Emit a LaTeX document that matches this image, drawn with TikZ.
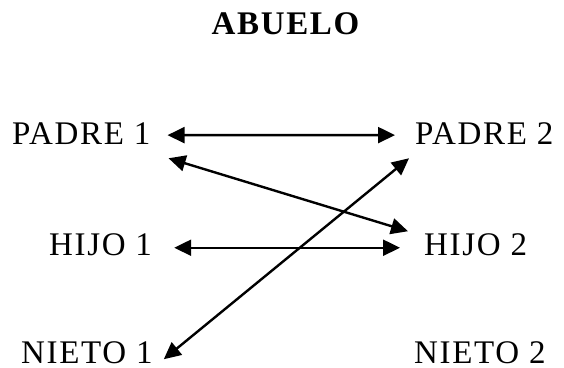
\documentclass[tikz,border=0pt]{standalone}
\usepackage{fontspec}
\setmainfont{Liberation Serif}[LetterSpace=5]
\usetikzlibrary{arrows.meta}
\begin{document}
\begin{tikzpicture}[x=1pt,y=1pt,
  lbl/.style={font=\fontsize{33}{38}\selectfont, inner sep=0pt, anchor=base west},
  ttl/.style={font=\fontsize{33}{38}\selectfont\bfseries, inner sep=0pt, anchor=base},
  arr/.style={line width=2.4pt, {Triangle[length=17pt,width=16pt]}-{Triangle[length=17pt,width=16pt]}}]
\useasboundingbox (0,0) rectangle (564,367);
\node[ttl] (ab) at (285.5,332) {ABUELO};
\node[lbl] (p1) at (12,222) {PADRE 1};
\node[lbl] (p2) at (415,222) {PADRE 2};
\node[lbl] (h1) at (49,112) {HIJO 1};
\node[lbl] (h2) at (424,112) {HIJO 2};
\node[lbl] (n1) at (21,4) {NIETO 1};
\node[lbl] (n2) at (414,4) {NIETO 2};
\draw[arr] ([xshift=17pt,yshift=-1pt]p1.east) -- ([xshift=-20pt,yshift=-1pt]p2.west);
\draw[arr] ([shift={(18pt,-13pt)}]p1.south east) -- ([shift={(-16pt,13pt)}]h2.west);
\draw[arr] ([xshift=22pt,yshift=-3.5pt]h1.east) -- ([xshift=-24pt,yshift=-3.5pt]h2.west);
\draw[arr] ([shift={(11pt,-7pt)}]n1.east) -- ([shift={(-6pt,-13pt)}]p2.south west);
\end{tikzpicture}
\end{document}
